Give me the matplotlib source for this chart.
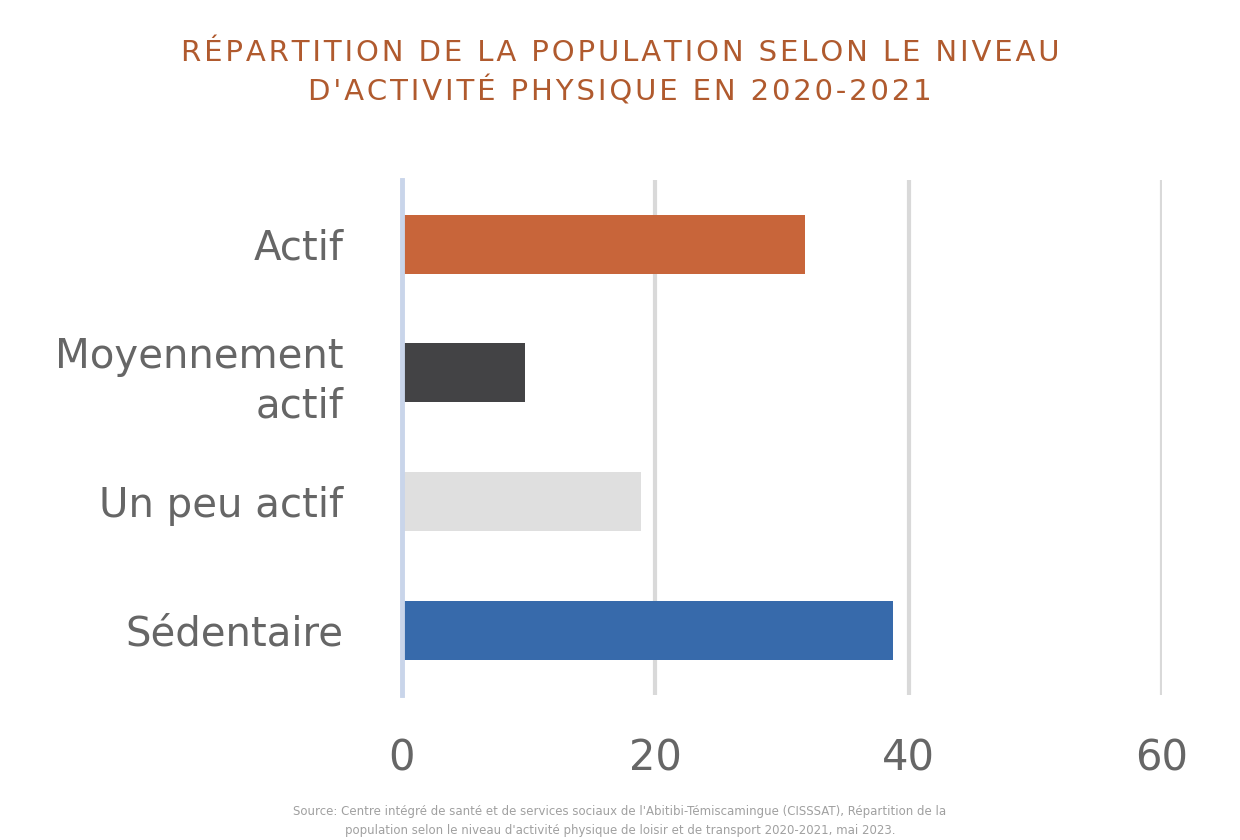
import matplotlib
matplotlib.use("Agg")
import matplotlib.pyplot as plt

# Data
categories = ["Actif", "Moyennement\nactif", "Un peu actif", "Sédentaire"]
values = [31.8, 9.7, 18.9, 38.8]
colors = ["#C8653A", "#434345", "#DFDFDF", "#376AAB"]
xticks = [0, 20, 40, 60]

title_lines = ["RÉPARTITION DE LA POPULATION SELON LE NIVEAU",
               "D'ACTIVITÉ PHYSIQUE EN 2020-2021"]
source = ("Source: Centre intégré de santé et de services sociaux de l'Abitibi-Témiscamingue (CISSSAT), Répartition de la\n"
          "population selon le niveau d'activité physique de loisir et de transport 2020-2021, mai 2023.")

plt.rcParams["font.family"] = ["DejaVu Sans"]


def spaced(s):
    # loose letter spacing like the original title
    return "\u200a".join(s)


fig = plt.figure(figsize=(12.4, 8.4), dpi=100)
ax = fig.add_axes([0.324, 0.173, 0.613, 0.613])

ypos = list(range(len(categories)))
ax.barh(ypos, values, height=0.46, color=colors, zorder=3)

ax.set_xlim(0, 60)
ax.set_ylim(3.5, -0.5)
ax.set_xticks(xticks)
ax.set_xticklabels([str(t) for t in xticks], fontsize=30, color="#666666")
ax.set_yticks(ypos)
ax.set_yticklabels(categories, fontsize=29, color="#666666", linespacing=1.3)
ax.tick_params(axis="y", length=0, pad=42)
ax.tick_params(axis="x", length=0, pad=31)

ax.grid(axis="x", color="#D9D9D9", linewidth=3, zorder=0)
for s in ["top", "right", "bottom"]:
    ax.spines[s].set_visible(False)
ax.spines["left"].set_color("#C9D5EA")
ax.spines["left"].set_linewidth(3.5)
ax.spines["left"].set_zorder(4)

fig.text(0.5, 0.913, "\n".join(spaced(l) for l in title_lines), ha="center", va="center",
         fontsize=21, color="#B05A2E", linespacing=1.4)
fig.text(0.5, 0.023, source, ha="center", va="center", fontsize=8.5,
         color="#A0A0A0", linespacing=1.6)

fig.savefig("out.png", dpi=100)
